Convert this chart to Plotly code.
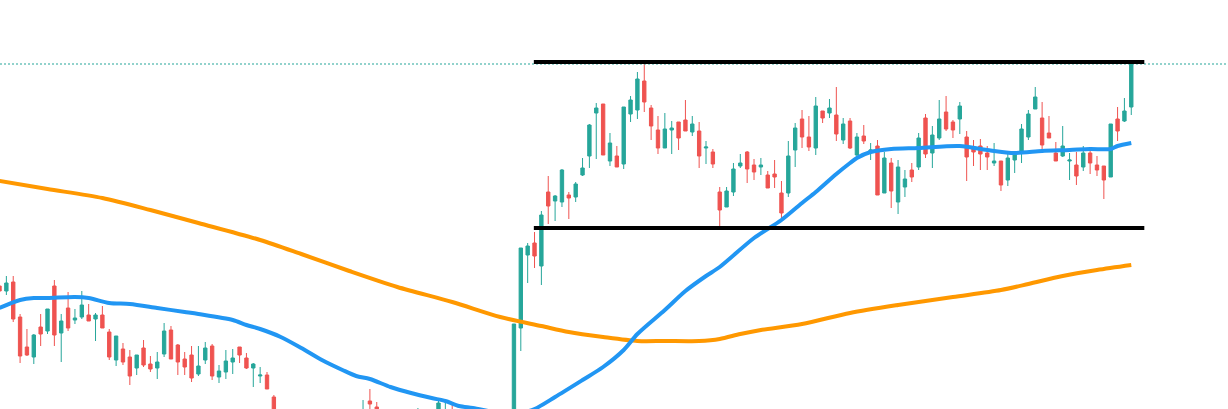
import plotly.graph_objects as go

# ---- data (price units) ----
opens = [21.4, 20.9, 21.8, 18.3, 15.3, 14.3, 17.3, 16.9, 21.4, 16.7,
         19.2, 18.0, 18.3, 18.5, 18.1, 18.5, 16.8, 14.0, 15.1, 14.3,
         13.2, 15.2, 13.6, 13.2, 14.6, 17.0, 15.5, 14.1, 14.5, 12.6,
         14.0, 15.4, 12.3, 12.8, 13.8, 15.3, 14.2, 13.2, 12.4, 12.5,
         10.3, 8.2, 7.0, 8.0, 6.5, 5.2, 6.6, 5.8, 7.5, 8.1,
         6.8, 7.6, 7.2, 8.4, 9.9, 9.3, 8.0, 8.6, 7.6, 6.6,
         7.6, 8.2, 8.8, 7.4, 8.2, 8.0, 8.8, 7.8, 6.4, 7.6,
         6.6, 5.2, 6.4, 5.4, 6.2, 5.4, 17.2, 24.5, 25.7, 23.4,
         30.8, 29.9, 29.8, 30.5, 30.3, 32.5, 34.4, 38.7, 39.6, 33.9,
         34.4, 33.6, 38.6, 39.0, 41.9, 39.2, 37.0, 35.2, 37.0, 37.8,
         38.0, 36.8, 36.9, 35.2, 34.8, 30.8, 29.3, 30.8, 33.4, 34.8,
         33.5, 33.3, 32.5, 32.6, 30.7, 30.7, 35.0, 38.1, 36.3, 35.2,
         38.9, 38.7, 38.5, 36.0, 37.9, 34.5, 36.4, 34.9, 35.4, 30.7,
         33.7, 29.8, 31.3, 33.0, 33.3, 38.2, 34.7, 36.2, 38.8, 37.8,
         38.1, 36.3, 35.1, 35.4, 34.7, 33.7, 33.9, 32.0, 34.0, 34.7,
         36.3, 39.1, 38.2, 36.7, 34.7, 34.4, 33.9, 33.5, 33.3, 34.7,
         33.5, 33.4, 32.3, 38.1, 37.9, 39.3]

highs = [22.4, 22.4, 22.4, 18.6, 17.1, 16.6, 18.6, 19.1, 22.0, 18.6,
         20.8, 19.1, 20.9, 19.6, 18.7, 19.4, 17.1, 16.4, 15.7, 15.0,
         14.5, 16.0, 14.4, 14.8, 17.7, 17.4, 15.6, 14.8, 15.4, 15.4,
         15.8, 15.6, 13.5, 15.0, 15.1, 15.3, 14.7, 13.7, 13.3, 12.8,
         10.5, 8.8, 8.6, 8.5, 7.2, 7.0, 7.4, 8.0, 8.4, 8.6,
         8.0, 8.2, 8.7, 10.0, 11.1, 9.8, 9.0, 8.9, 8.2, 8.0,
         8.8, 9.2, 9.0, 8.6, 10.2, 10.0, 9.5, 8.6, 8.2, 8.4,
         7.2, 7.0, 7.0, 6.8, 6.6, 17.6, 25.2, 25.7, 26.8, 28.9,
         32.4, 30.5, 33.1, 30.8, 31.8, 34.2, 37.6, 39.7, 39.6, 36.7,
         35.4, 39.3, 40.4, 42.8, 43.6, 39.5, 38.4, 38.7, 37.9, 37.8,
         40.0, 38.4, 37.8, 35.9, 35.1, 31.3, 31.3, 33.7, 34.6, 34.9,
         34.1, 34.2, 32.9, 34.0, 31.9, 35.9, 37.7, 39.0, 38.4, 40.3,
         38.9, 40.1, 41.3, 38.2, 38.2, 36.7, 37.5, 35.7, 36.0, 34.8,
         34.2, 34.0, 33.0, 33.7, 36.7, 38.6, 37.4, 40.0, 40.4, 38.0,
         39.8, 36.9, 36.0, 36.1, 35.4, 35.7, 33.9, 34.6, 34.8, 37.6,
         39.0, 41.3, 39.8, 38.4, 35.8, 37.4, 34.7, 34.8, 35.4, 35.2,
         34.4, 33.4, 37.6, 39.3, 40.2, 43.7]

lows = [20.7, 20.5, 17.8, 13.7, 14.4, 13.6, 15.4, 16.6, 15.4, 13.8,
        16.9, 17.6, 18.1, 17.9, 15.9, 17.2, 14.0, 13.4, 13.5, 11.5,
        12.5, 13.3, 12.8, 12.1, 14.3, 14.1, 12.5, 12.5, 11.8, 12.4,
        13.6, 12.0, 11.7, 12.1, 12.6, 13.7, 13.1, 11.3, 11.7, 11.1,
        8.0, 6.8, 6.6, 6.0, 5.0, 4.8, 5.6, 5.4, 7.0, 6.4,
        6.2, 6.6, 6.8, 8.0, 9.0, 8.0, 7.6, 7.2, 6.4, 6.0,
        7.2, 7.8, 7.4, 7.0, 7.8, 7.6, 7.4, 6.4, 6.0, 6.2,
        5.0, 4.8, 5.2, 5.0, 4.8, 5.0, 14.9, 21.7, 23.2, 21.5,
        27.6, 27.9, 29.3, 28.1, 29.8, 32.4, 33.2, 34.1, 34.5, 33.4,
        33.3, 33.1, 37.8, 38.1, 38.8, 36.0, 34.6, 35.2, 34.6, 35.0,
        36.9, 36.4, 33.2, 33.6, 33.2, 27.4, 29.3, 30.4, 33.2, 31.7,
        32.0, 32.5, 31.2, 31.2, 28.2, 30.3, 33.3, 35.2, 34.9, 34.5,
        37.7, 38.2, 35.9, 35.6, 35.1, 34.4, 35.6, 34.0, 30.5, 30.7,
        29.2, 28.6, 30.3, 31.8, 33.0, 34.2, 33.2, 36.0, 36.9, 36.2,
        36.6, 31.9, 33.4, 33.0, 33.0, 33.4, 30.9, 31.4, 32.7, 33.7,
        36.0, 39.1, 35.1, 36.2, 33.9, 34.3, 32.0, 31.5, 32.9, 32.6,
        32.4, 30.1, 32.3, 35.9, 37.8, 38.5]

closes = [20.9, 21.7, 18.1, 14.4, 14.5, 16.5, 16.6, 19.1, 16.5, 17.9,
          17.2, 18.2, 19.5, 17.9, 18.5, 17.2, 14.3, 16.4, 13.8, 12.4,
          14.5, 13.5, 13.1, 13.8, 16.9, 14.1, 13.8, 13.3, 12.2, 13.4,
          15.2, 12.4, 12.9, 13.9, 14.2, 14.5, 13.2, 13.6, 12.5, 11.1,
          8.5, 7.2, 8.2, 6.4, 5.4, 6.6, 6.0, 7.5, 8.1, 7.0,
          7.6, 7.2, 8.4, 8.9, 9.6, 8.4, 8.8, 7.6, 6.8, 7.8,
          8.6, 9.0, 7.8, 8.4, 9.7, 8.8, 7.8, 6.8, 7.6, 6.6,
          5.4, 6.4, 5.6, 6.2, 5.4, 17.6, 25.2, 25.4, 24.4, 28.5,
          29.4, 30.4, 33.0, 30.2, 31.6, 33.2, 37.5, 39.2, 34.5, 35.7,
          33.3, 39.3, 40.0, 42.1, 39.8, 37.4, 35.2, 37.1, 37.2, 36.2,
          36.9, 37.6, 34.4, 35.3, 33.6, 29.0, 30.9, 33.1, 33.7, 33.1,
          32.8, 33.5, 31.2, 32.3, 28.7, 34.4, 37.2, 36.3, 35.3, 39.4,
          38.2, 39.2, 36.6, 37.6, 35.2, 36.3, 35.9, 35.0, 30.5, 34.2,
          30.9, 33.3, 32.1, 32.3, 36.2, 34.6, 36.5, 38.1, 37.1, 37.0,
          39.4, 34.3, 34.8, 34.6, 34.3, 33.9, 31.5, 34.2, 34.6, 37.1,
          38.6, 40.3, 35.5, 36.2, 33.9, 35.4, 34.0, 32.4, 34.7, 33.7,
          33.0, 32.0, 37.6, 36.9, 38.9, 43.6]

bars = list(range(len(closes)))

# fast moving average (blue), read at selected bars
ma_fast_bar = [0, 3, 5, 7, 11, 13, 16, 19, 23, 27, 29, 34, 36, 38, 41, 44, 47, 50,
               52, 54, 57, 60, 63, 65, 67, 69, 72, 74, 76, 78, 81, 85, 88, 91, 93,
               97, 100, 103, 105, 110, 114, 117, 119, 122, 124, 125, 127, 130, 134,
               140, 144, 148, 152, 156, 159, 162, 163, 165]
ma_fast_val = [19.2, 20.0, 20.2, 20.2, 20.3, 20.2, 19.7, 19.6, 19.2, 18.8, 18.6, 18.0,
               17.5, 17.1, 16.3, 15.2, 14.0, 13.0, 12.4, 12.1, 11.3, 10.7, 10.2, 9.9,
               9.4, 9.2, 8.8, 8.6, 8.7, 9.1, 10.3, 12.0, 13.3, 15.0, 16.6, 19.0, 20.9,
               22.4, 23.3, 26.2, 28.0, 29.7, 30.8, 32.6, 33.7, 34.2, 34.8, 35.1, 35.2,
               35.4, 35.0, 34.7, 34.9, 35.0, 35.1, 35.1, 35.4, 35.7]

# slow moving average (orange), read at selected bars
ma_slow_bar = [0, 7, 15, 22, 29, 38, 44, 51, 58, 66, 73, 79, 83, 88, 93, 97, 102,
               105, 108, 111, 117, 124, 131, 139, 146, 150, 155, 160, 165]
ma_slow_val = [31.9, 31.1, 30.2, 29.0, 27.7, 26.0, 24.6, 22.9, 21.3, 19.8, 18.3, 17.4,
               16.8, 16.3, 15.9, 15.9, 15.9, 16.1, 16.6, 17.0, 17.6, 18.7, 19.5, 20.3,
               21.0, 21.6, 22.4, 23.0, 23.5]

# range levels
resistance = 43.8
support = 27.2
level_start_bar = 77.9
level_end_bar = 166.9

UP = "#26a69a"
DOWN = "#ef5350"

x_range = [0.073, 179.1]
y_range = [9.1, 50.0]

fig = go.Figure()

fig.add_trace(go.Candlestick(
    x=bars, open=opens, high=highs, low=lows, close=closes,
    increasing=dict(line=dict(color=UP, width=1), fillcolor=UP),
    decreasing=dict(line=dict(color=DOWN, width=1), fillcolor=DOWN),
    whiskerwidth=0, hoverinfo="skip", showlegend=False,
))

fig.add_trace(go.Scatter(
    x=ma_slow_bar, y=ma_slow_val, mode="lines",
    line=dict(color="#FF9800", width=4, shape="spline", smoothing=0.8),
    hoverinfo="skip", showlegend=False,
))
fig.add_trace(go.Scatter(
    x=ma_fast_bar, y=ma_fast_val, mode="lines",
    line=dict(color="#2196F3", width=4, shape="spline", smoothing=0.8),
    hoverinfo="skip", showlegend=False,
))

# last price dotted line
fig.add_trace(go.Scatter(
    x=x_range, y=[closes[-1], closes[-1]], mode="lines",
    line=dict(color=UP, width=1.2, dash="2px,2px"),
    hoverinfo="skip", showlegend=False,
))

for lvl in (resistance, support):
    fig.add_trace(go.Scatter(
        x=[level_start_bar, level_end_bar], y=[lvl, lvl], mode="lines",
        line=dict(color="#000000", width=4),
        hoverinfo="skip", showlegend=False,
    ))

fig.update_layout(
    width=1228, height=409,
    margin=dict(l=0, r=0, t=0, b=0),
    paper_bgcolor="white", plot_bgcolor="white",
    showlegend=False,
    boxgap=0.3,
    xaxis=dict(range=x_range, visible=False, showgrid=False, zeroline=False,
               rangeslider=dict(visible=False)),
    yaxis=dict(range=y_range, visible=False, showgrid=False, zeroline=False),
)

fig.write_html(
    "out.html",
    config={"displayModeBar": False},
    post_script="document.body.style.margin='0px';document.body.style.padding='0px';",
)
